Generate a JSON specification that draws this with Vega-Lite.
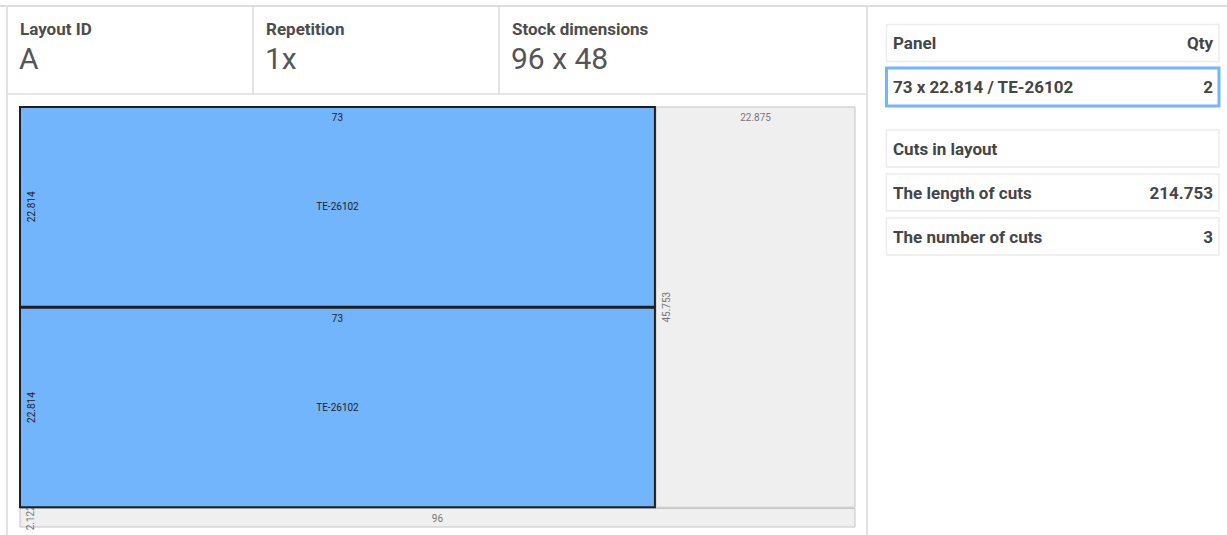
{
  "$schema": "https://vega.github.io/schema/vega-lite/v6.json",
  "width": 1227,
  "height": 535,
  "padding": 0,
  "autosize": {"type": "none"},
  "background": "white",
  "config": {
    "view": {"stroke": null},
    "font": "Roboto",
    "axis": {"disable": true},
    "legend": {"disable": true}
  },
  "datasets": {
    "header": [
      {"col": 0, "title": "Layout ID", "value": "A"},
      {"col": 1, "title": "Repetition", "value": "1x"},
      {"col": 2, "title": "Stock dimensions", "value": "96 x 48"}
    ],
    "pieces": [
      {"piece": "panel", "name": "TE-26102", "x": 0, "x2": 73, "y": 0, "y2": 22.814, "w": "73", "h": "22.814"},
      {"piece": "panel", "name": "TE-26102", "x": 0, "x2": 73, "y": 22.939, "y2": 45.753, "w": "73", "h": "22.814"},
      {"piece": "waste", "name": "", "x": 73.125, "x2": 96, "y": 0, "y2": 45.753, "w": "22.875", "h": "45.753"},
      {"piece": "waste", "name": "", "x": 0, "x2": 96, "y": 45.878, "y2": 48, "w": "96", "h": "2.122"}
    ],
    "table": [
      {"slot": 0, "kind": "head", "left": "Panel", "right": "Qty"},
      {"slot": 1, "kind": "selected", "left": "73 x 22.814 / TE-26102", "right": "2"},
      {"slot": 2.4, "kind": "head", "left": "Cuts in layout", "right": ""},
      {"slot": 3.4, "kind": "row", "left": "The length of cuts", "right": "214.753"},
      {"slot": 4.4, "kind": "row", "left": "The number of cuts", "right": "3"}
    ]
  },
  "resolve": {"scale": {"x": "independent", "y": "independent"}},
  "layer": [
    {
      "data": {"name": "header"},
      "layer": [
        {
          "data": {"values": [{}]},
          "mark": {"type": "rule", "color": "#dedede", "strokeWidth": 2},
          "encoding": {
            "x": {"datum": -0.03, "scale": {"domain": [-0.028455, 4.95935], "nice": false, "zero": false}},
            "x2": {"datum": 5},
            "y": {"datum": 0, "scale": {"domain": [-0.06818, 6.0114], "nice": false, "zero": false, "reverse": true}}
          }
        },
        {
          "data": {"values": [{}]},
          "mark": {"type": "rule", "color": "#e2e2e2", "strokeWidth": 2},
          "encoding": {
            "x": {"datum": 0},
            "y": {"datum": 0},
            "y2": {"datum": 6.2}
          }
        },
        {
          "data": {"values": [{}]},
          "mark": {"type": "rule", "color": "#e2e2e2", "strokeWidth": 2},
          "encoding": {
            "x": {"datum": 3.4959},
            "y": {"datum": 0},
            "y2": {"datum": 6.2}
          }
        },
        {
          "data": {"values": [{}]},
          "mark": {"type": "rule", "color": "#dedede", "strokeWidth": 1.5},
          "encoding": {
            "x": {"datum": 0},
            "x2": {"datum": 3.4959},
            "y": {"datum": 1}
          }
        },
        {
          "transform": [{"filter": "datum.col > 0"}],
          "mark": {"type": "rule", "color": "#dcdcdc", "strokeWidth": 1.5},
          "encoding": {
            "x": {"field": "col", "type": "quantitative"},
            "y": {"datum": 0},
            "y2": {"datum": 1}
          }
        },
        {
          "mark": {"type": "text", "align": "left", "baseline": "alphabetic", "dx": 13, "dy": 29, "fontSize": 17, "fontWeight": "bold", "color": "#4d4d4d"},
          "encoding": {
            "x": {"field": "col", "type": "quantitative"},
            "y": {"datum": 0},
            "text": {"field": "title"}
          }
        },
        {
          "mark": {"type": "text", "align": "left", "baseline": "alphabetic", "dx": 12, "dy": 63, "fontSize": 30, "color": "#555555"},
          "encoding": {
            "x": {"field": "col", "type": "quantitative"},
            "y": {"datum": 0},
            "text": {"field": "value"}
          }
        }
      ]
    },
    {
      "data": {"name": "pieces"},
      "transform": [
        {"calculate": "(datum.x + datum.x2) / 2", "as": "xm"},
        {"calculate": "(datum.y + datum.y2) / 2", "as": "ym"}
      ],
      "layer": [
        {
          "transform": [{"filter": "datum.piece == 'waste'"}],
          "mark": {"type": "rect", "fill": "#efefef", "stroke": "#c4c4c4", "strokeWidth": 1},
          "encoding": {
            "x": {"field": "x", "type": "quantitative", "scale": {"domain": [-2.2994, 138.77], "nice": false, "zero": false}},
            "x2": {"field": "x2"},
            "y": {"field": "y", "type": "quantitative", "scale": {"domain": [-12.229, 48.914], "nice": false, "zero": false, "reverse": true}},
            "y2": {"field": "y2"}
          }
        },
        {
          "transform": [{"filter": "datum.piece == 'waste'"}],
          "mark": {"type": "text", "angle": 270, "align": "center", "baseline": "middle", "dy": 11, "fontSize": 10, "color": "#777777"},
          "encoding": {
            "x": {"field": "x", "type": "quantitative"},
            "y": {"field": "ym", "type": "quantitative"},
            "text": {"field": "h"}
          }
        },
        {
          "transform": [{"filter": "datum.piece == 'panel'"}],
          "mark": {"type": "rect", "fill": "#73b5fd", "stroke": "#1f1f1f", "strokeWidth": 2},
          "encoding": {
            "x": {"field": "x", "type": "quantitative"},
            "x2": {"field": "x2"},
            "y": {"field": "y", "type": "quantitative"},
            "y2": {"field": "y2"}
          }
        },
        {
          "transform": [{"filter": "datum.piece == 'panel'"}],
          "mark": {"type": "text", "angle": 270, "align": "center", "baseline": "middle", "dy": 12, "fontSize": 10, "color": "#222222"},
          "encoding": {
            "x": {"field": "x", "type": "quantitative"},
            "y": {"field": "ym", "type": "quantitative"},
            "text": {"field": "h"}
          }
        },
        {
          "mark": {"type": "text", "align": "center", "baseline": "middle", "dy": 11, "fontSize": 10},
          "encoding": {
            "x": {"field": "xm", "type": "quantitative"},
            "y": {"field": "y", "type": "quantitative"},
            "text": {"field": "w"},
            "color": {"condition": {"test": "datum.piece == 'panel'", "value": "#222222"}, "value": "#777777"}
          }
        },
        {
          "transform": [{"filter": "datum.piece == 'panel'"}],
          "mark": {"type": "text", "align": "center", "baseline": "middle", "fontSize": 10, "color": "#222222"},
          "encoding": {
            "x": {"field": "xm", "type": "quantitative"},
            "y": {"field": "ym", "type": "quantitative"},
            "text": {"field": "name"}
          }
        }
      ]
    },
    {
      "data": {"name": "table"},
      "layer": [
        {
          "transform": [{"filter": "datum.kind != 'selected'"}],
          "mark": {"type": "rect", "height": 37, "fill": "white", "stroke": "#ececec", "strokeWidth": 1.5},
          "encoding": {
            "x": {"datum": 0, "scale": {"domain": [-2.6662, 1.0241], "nice": false, "zero": false}},
            "x2": {"datum": 1},
            "y": {"field": "slot", "type": "quantitative", "scale": {"domain": [-0.97727, 11.1818], "nice": false, "zero": false, "reverse": true}}
          }
        },
        {
          "transform": [{"filter": "datum.kind == 'selected'"}],
          "mark": {"type": "rect", "height": 38, "fill": "white", "stroke": "#74b4fc", "strokeWidth": 3},
          "encoding": {
            "x": {"datum": 0},
            "x2": {"datum": 1},
            "y": {"field": "slot", "type": "quantitative"}
          }
        },
        {
          "mark": {"type": "text", "align": "left", "baseline": "alphabetic", "dx": 6.5, "dy": 6, "fontSize": 17, "fontWeight": "bold", "color": "#454545"},
          "encoding": {
            "x": {"datum": 0},
            "y": {"field": "slot", "type": "quantitative"},
            "text": {"field": "left"}
          }
        },
        {
          "mark": {"type": "text", "align": "right", "baseline": "alphabetic", "dx": -6, "dy": 6, "fontSize": 17, "fontWeight": "bold", "color": "#454545"},
          "encoding": {
            "x": {"datum": 1},
            "y": {"field": "slot", "type": "quantitative"},
            "text": {"field": "right"}
          }
        }
      ]
    }
  ]
}
